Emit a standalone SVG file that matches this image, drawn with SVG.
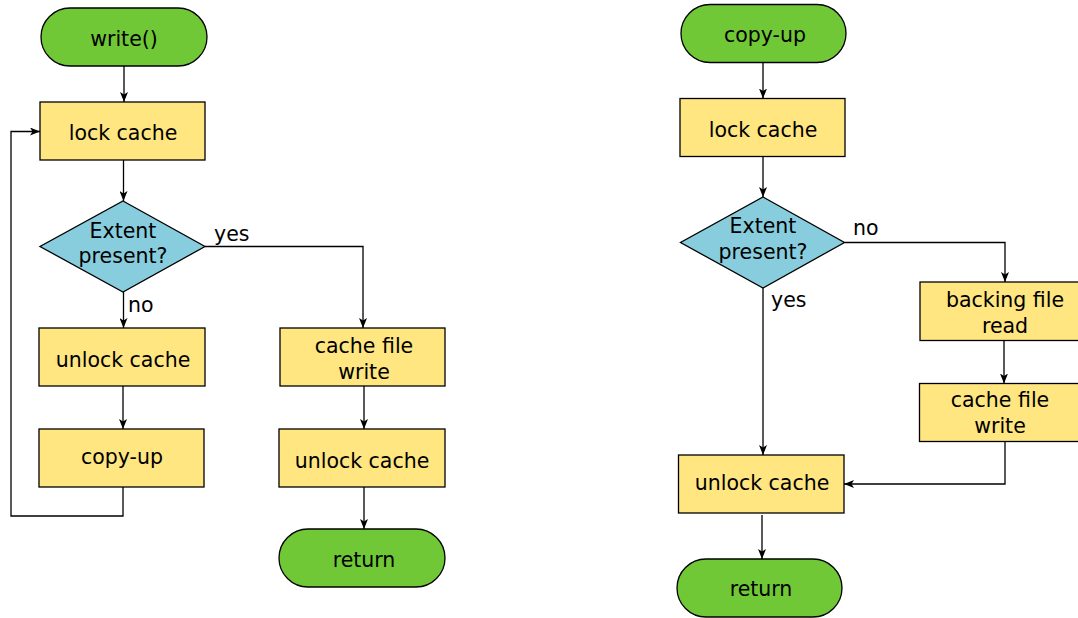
<svg xmlns="http://www.w3.org/2000/svg" width="1078" height="618" viewBox="0 0 1078 618">
  <defs>
    <marker id="arrow" viewBox="0 0 10 8" refX="10" refY="4" markerWidth="10" markerHeight="8" markerUnits="userSpaceOnUse" orient="auto">
      <path d="M0,0 L10,4 L0,8 L2.5,4 Z" fill="#000"/>
    </marker>
    <style>
      .term { fill: #71c837; stroke: #000; stroke-width: 1.3; }
      .proc { fill: #ffe680; stroke: #000; stroke-width: 1.3; }
      .dec { fill: #87cdde; stroke: #000; stroke-width: 1.3; }
      .lbl { font-family: "DejaVu Sans", "Liberation Sans", sans-serif; font-size: 20.5px; fill: #000; text-anchor: middle; }
      .edge { font-family: "DejaVu Sans", "Liberation Sans", sans-serif; font-size: 20.5px; fill: #000; }
      .conn path { fill: none; stroke: #000; stroke-width: 1.3; marker-end: url(#arrow); }
      .conn path.plain { marker-end: none; }
    </style>
  </defs>
  <rect width="1078" height="618" fill="#fff"/>

  <!-- write() flow -->
  <g id="write-start"><rect class="term" x="41" y="8" width="166" height="58" rx="29"/><text class="lbl" x="124" y="46">write()</text></g>
  <g id="write-lock"><rect class="proc" x="40" y="102" width="165" height="58"/><text class="lbl" x="123" y="140">lock cache</text></g>
  <g id="write-check"><polygon class="dec" points="123,201 205,246.5 123,292 40,246.5"/><text class="lbl" x="123" y="238">Extent</text><text class="lbl" x="123" y="263">present?</text></g>
  <g id="write-unlock"><rect class="proc" x="39" y="328" width="166" height="58"/><text class="lbl" x="123" y="367">unlock cache</text></g>
  <g id="write-copyup"><rect class="proc" x="39" y="429" width="165" height="58"/><text class="lbl" x="122" y="464">copy-up</text></g>
  <g id="write-cachewrite"><rect class="proc" x="280" y="328" width="165" height="58"/><text class="lbl" x="364" y="353">cache file</text><text class="lbl" x="364" y="379">write</text></g>
  <g id="write-unlock2"><rect class="proc" x="279" y="429" width="166" height="58"/><text class="lbl" x="362" y="468">unlock cache</text></g>
  <g id="write-return"><rect class="term" x="279" y="529" width="166" height="58" rx="29"/><text class="lbl" x="364" y="567">return</text></g>

  <!-- copy-up flow -->
  <g id="cu-start"><rect class="term" x="681" y="4.5" width="165" height="58" rx="29"/><text class="lbl" x="765" y="42">copy-up</text></g>
  <g id="cu-lock"><rect class="proc" x="680" y="98.5" width="165" height="58"/><text class="lbl" x="763" y="137">lock cache</text></g>
  <g id="cu-check"><polygon class="dec" points="763,197 844.5,242.5 763,288 680.5,242.5"/><text class="lbl" x="763" y="233">Extent</text><text class="lbl" x="763" y="259">present?</text></g>
  <g id="cu-read"><rect class="proc" x="920" y="282" width="160" height="58.5"/><text class="lbl" x="1005" y="307">backing file</text><text class="lbl" x="1005" y="333">read</text></g>
  <g id="cu-cachewrite"><rect class="proc" x="919.5" y="383.5" width="160" height="58"/><text class="lbl" x="1000" y="407">cache file</text><text class="lbl" x="1000" y="433">write</text></g>
  <g id="cu-unlock"><rect class="proc" x="678.5" y="455" width="165.5" height="58"/><text class="lbl" x="762" y="490">unlock cache</text></g>
  <g id="cu-return"><rect class="term" x="677" y="559" width="165" height="58" rx="29"/><text class="lbl" x="761" y="596">return</text></g>

  <g id="connectors" class="conn">
    <path d="M124,66 V102"/>
    <path d="M123.5,160 V201"/>
    <path d="M123.5,292 V328"/>
    <path d="M205,246.5 H363 V328"/>
    <path d="M123,386 V429"/>
    <path d="M123,487 V516 H11 V131.5 H40"/>
    <path d="M364,386 V429"/>
    <path d="M364,487 V529"/>
    <path d="M763,62.5 V98.5"/>
    <path d="M763,156.5 V197"/>
    <path d="M844.5,242.5 H1005 V282"/>
    <path d="M763,288 V455"/>
    <path d="M1004,340.5 V383.5"/>
    <path d="M1005,441.5 V484 H844"/>
    <path d="M762,515 V559"/>
  </g>

  <g id="edge-labels">
    <text class="edge" x="214" y="241">yes</text>
    <text class="edge" x="128" y="312">no</text>
    <text class="edge" x="853" y="235">no</text>
    <text class="edge" x="771" y="307">yes</text>
  </g>
</svg>
